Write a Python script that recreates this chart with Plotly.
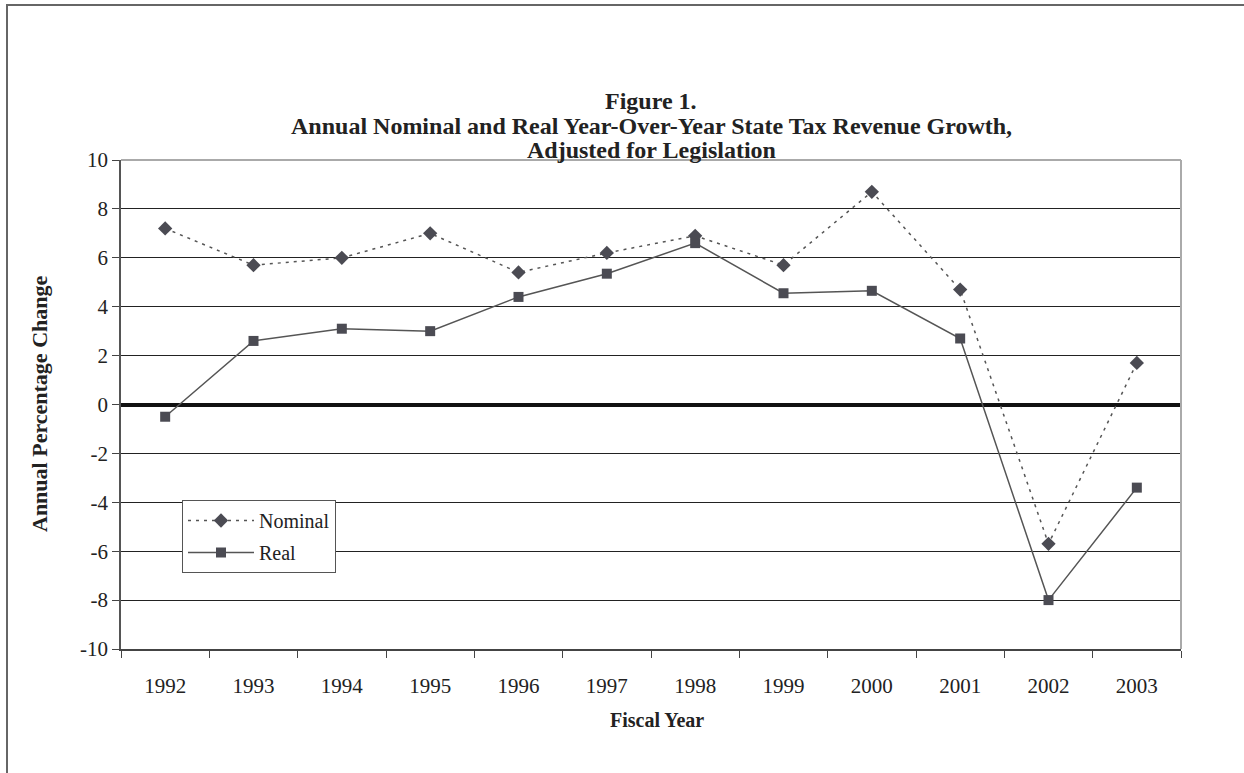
import plotly.graph_objects as go

years = ["1992", "1993", "1994", "1995", "1996", "1997", "1998", "1999", "2000", "2001", "2002", "2003"]
nominal = [7.2, 5.7, 6.0, 7.0, 5.4, 6.2, 6.9, 5.7, 8.7, 4.7, -5.7, 1.7]
real = [-0.5, 2.6, 3.1, 3.0, 4.4, 5.35, 6.6, 4.55, 4.65, 2.7, -8.0, -3.4]
y_ticks = [-10, -8, -6, -4, -2, 0, 2, 4, 6, 8, 10]
title_lines = [
    "Figure 1.",
    "Annual Nominal and Real Year-Over-Year State Tax Revenue Growth,",
    "Adjusted for Legislation",
]

FONT = "Liberation Serif"
MARK = "#4b4b53"
LINE = "#555555"
TXT = "#222222"

fig = go.Figure()
fig.add_trace(go.Scatter(
    x=years, y=nominal, name="Nominal", mode="lines+markers",
    line=dict(color=LINE, width=1.5, dash="3px,5px"),
    marker=dict(symbol="diamond", size=11, color=MARK),
    legendgroup="a",
))
fig.add_trace(go.Scatter(
    x=years, y=real, name="Real", mode="lines+markers",
    line=dict(color=LINE, width=1.5),
    marker=dict(symbol="square", size=10, color=MARK),
    legendgroup="b",
))

W, H = 1244, 773
L, R, T, B = 121, 1181, 160, 649

def px_x(p):
    return (p - L) / (R - L)

def px_y(p):
    return (B - p) / (B - T)

annotations = []
for txt, yc in zip(title_lines, [101, 126, 150]):
    annotations.append(dict(
        text="<b>" + txt + "</b>", xref="paper", yref="paper",
        x=px_x(651), y=px_y(yc), xanchor="center", yanchor="middle",
        showarrow=False, font=dict(family=FONT, size=24, color=TXT),
    ))
annotations.append(dict(
    text="<b>Annual Percentage Change</b>", xref="paper", yref="paper",
    x=px_x(39), y=px_y(404), xanchor="center", yanchor="middle", textangle=-90,
    showarrow=False, font=dict(family=FONT, size=22, color=TXT),
))
annotations.append(dict(
    text="<b>Fiscal Year</b>", xref="paper", yref="paper",
    x=px_x(657), y=px_y(720), xanchor="center", yanchor="middle",
    showarrow=False, font=dict(family=FONT, size=20, color=TXT),
))

fig.update_layout(
    width=W, height=H,
    margin=dict(l=L, r=W - R, t=T, b=H - B, pad=0),
    paper_bgcolor="white", plot_bgcolor="white",
    font=dict(family=FONT, color=TXT, size=21),
    showlegend=True,
    legend=dict(
        x=px_x(182), y=px_y(500), xanchor="left", yanchor="top",
        bordercolor="#555555", borderwidth=1, bgcolor="white",
        font=dict(family=FONT, size=20, color=TXT),
        tracegroupgap=3,
        itemwidth=66,
        entrywidth=117, entrywidthmode="pixels",
    ),
    xaxis=dict(
        type="category", categoryorder="array", categoryarray=years,
        showgrid=False, tickson="boundaries", ticks="outside", ticklen=7,
        tickcolor="#444444", showline=True, linecolor="#444444", linewidth=1.5,
        tickfont=dict(family=FONT, size=21, color=TXT),
        ticklabelstandoff=17,
        range=[-0.5, 11.5],
    ),
    yaxis=dict(
        range=[-10, 10], tickvals=y_ticks, ticktext=[str(v) for v in y_ticks],
        showgrid=True, gridcolor="#222222", gridwidth=1,
        zeroline=True, zerolinecolor="#111111", zerolinewidth=4,
        ticks="outside", ticklen=7, tickcolor="#444444",
        showline=True, linecolor="#555555", linewidth=1.5,
        tickfont=dict(family=FONT, size=21, color=TXT),
    ),
    annotations=annotations,
    shapes=[
        dict(type="line", xref="paper", yref="paper", x0=0, x1=1, y0=1, y1=1,
             line=dict(color="#aaaaaa", width=2), layer="above"),
        dict(type="line", xref="paper", yref="paper", x0=1, x1=1, y0=0, y1=1,
             line=dict(color="#aaaaaa", width=2), layer="above"),
        dict(type="rect", xref="paper", yref="paper",
             x0=px_x(7), x1=px_x(1300), y0=px_y(5), y1=px_y(800),
             line=dict(color="#666666", width=2), layer="below"),
    ],
)

fig.write_html("out.html")
